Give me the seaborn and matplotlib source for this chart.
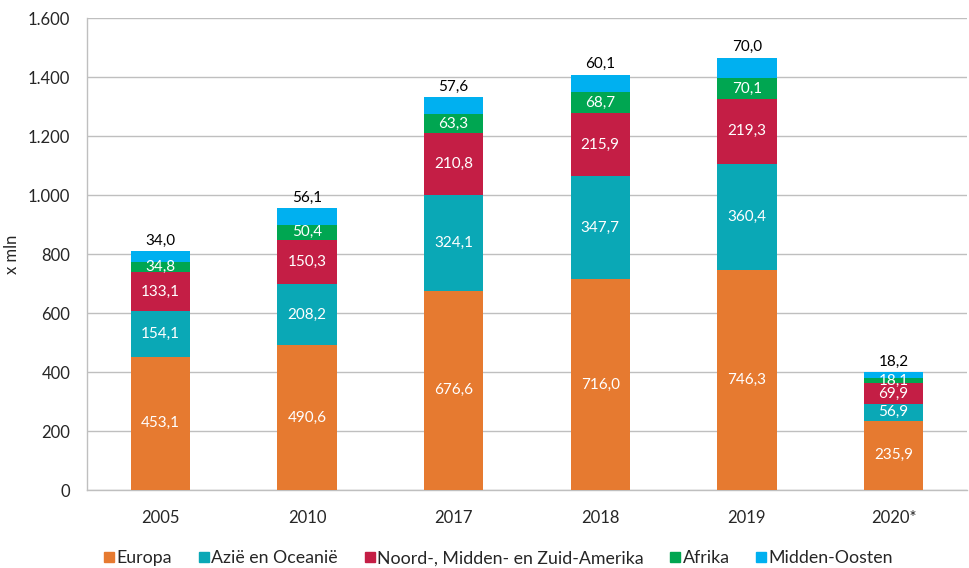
import matplotlib
matplotlib.use("Agg")
import matplotlib.pyplot as plt
import seaborn as sns
import pandas as pd
import numpy as np
from matplotlib.lines import Line2D

years = ["2005", "2010", "2017", "2018", "2019", "2020*"]
series = ["Europa", "Azië en Oceanië", "Noord-, Midden- en Zuid-Amerika", "Afrika", "Midden-Oosten"]
europa = [453.1, 490.6, 676.6, 716.0, 746.3, 235.9]
azie = [154.1, 208.2, 324.1, 347.7, 360.4, 56.9]
amerika = [133.1, 150.3, 210.8, 215.9, 219.3, 69.9]
afrika = [34.8, 50.4, 63.3, 68.7, 70.1, 18.1]
midden_oosten = [34.0, 56.1, 57.6, 60.1, 70.0, 18.2]
colors = ["#E67A30", "#0AA8B6", "#C41E45", "#00A651", "#00B0F0"]

sns.set_theme(style="white")
plt.rcParams["font.family"] = ["Lato", "DejaVu Sans"]

fig = plt.figure(figsize=(9.69, 5.68), dpi=100)
ax = fig.add_axes([0.0898, 0.137, 0.908, 0.831])

vals = np.array([europa, azie, amerika, afrika, midden_oosten])
cum = np.cumsum(vals, axis=0)

for i in range(len(series) - 1, -1, -1):
    df = pd.DataFrame({"year": years, "value": cum[i]})
    sns.barplot(data=df, x="year", y="value", color=colors[i], width=0.405,
                saturation=1, ax=ax, zorder=3, edgecolor="none")

for j in range(len(years)):
    for i in range(len(series) - 1):
        mid = cum[i, j] - vals[i, j] / 2
        ax.text(j, mid, f"{vals[i, j]:.1f}".replace(".", ","), ha="center", va="center",
                color="white", fontsize=11, zorder=5)
    ax.text(j, cum[-1, j] + 12, f"{vals[-1, j]:.1f}".replace(".", ","), ha="center",
            va="bottom", color="black", fontsize=11, zorder=5)

ax.set_ylim(0, 1600)
ax.set_xlim(-0.5, 5.5)
ax.set_yticks(range(0, 1601, 200))
ax.set_yticklabels([f"{v:,}".replace(",", ".") for v in range(0, 1601, 200)], fontsize=12)
ax.tick_params(axis="x", labelsize=12, length=0, pad=14)
ax.tick_params(axis="y", length=0, pad=12)
ax.yaxis.grid(True, color="#BFBFBF", linewidth=1, zorder=0)
ax.set_axisbelow(True)
ax.set_xlabel("")
ax.set_ylabel("x mln", fontsize=12, labelpad=6)
for s in ["top", "right"]:
    ax.spines[s].set_visible(False)
for s in ["left", "bottom"]:
    ax.spines[s].set_color("#BFBFBF")
    ax.spines[s].set_linewidth(1)

handles = [Line2D([0], [0], marker="s", linestyle="none", markersize=7.5,
                  markerfacecolor=c, markeredgecolor=c) for c in colors]
fig.legend(handles, series, loc="lower center", bbox_to_anchor=(0.514, -0.025), ncol=5,
           frameon=False, fontsize=12.8, handletextpad=0.05, columnspacing=1.45,
           handlelength=0.7)

fig.savefig("out.png", dpi=100)
